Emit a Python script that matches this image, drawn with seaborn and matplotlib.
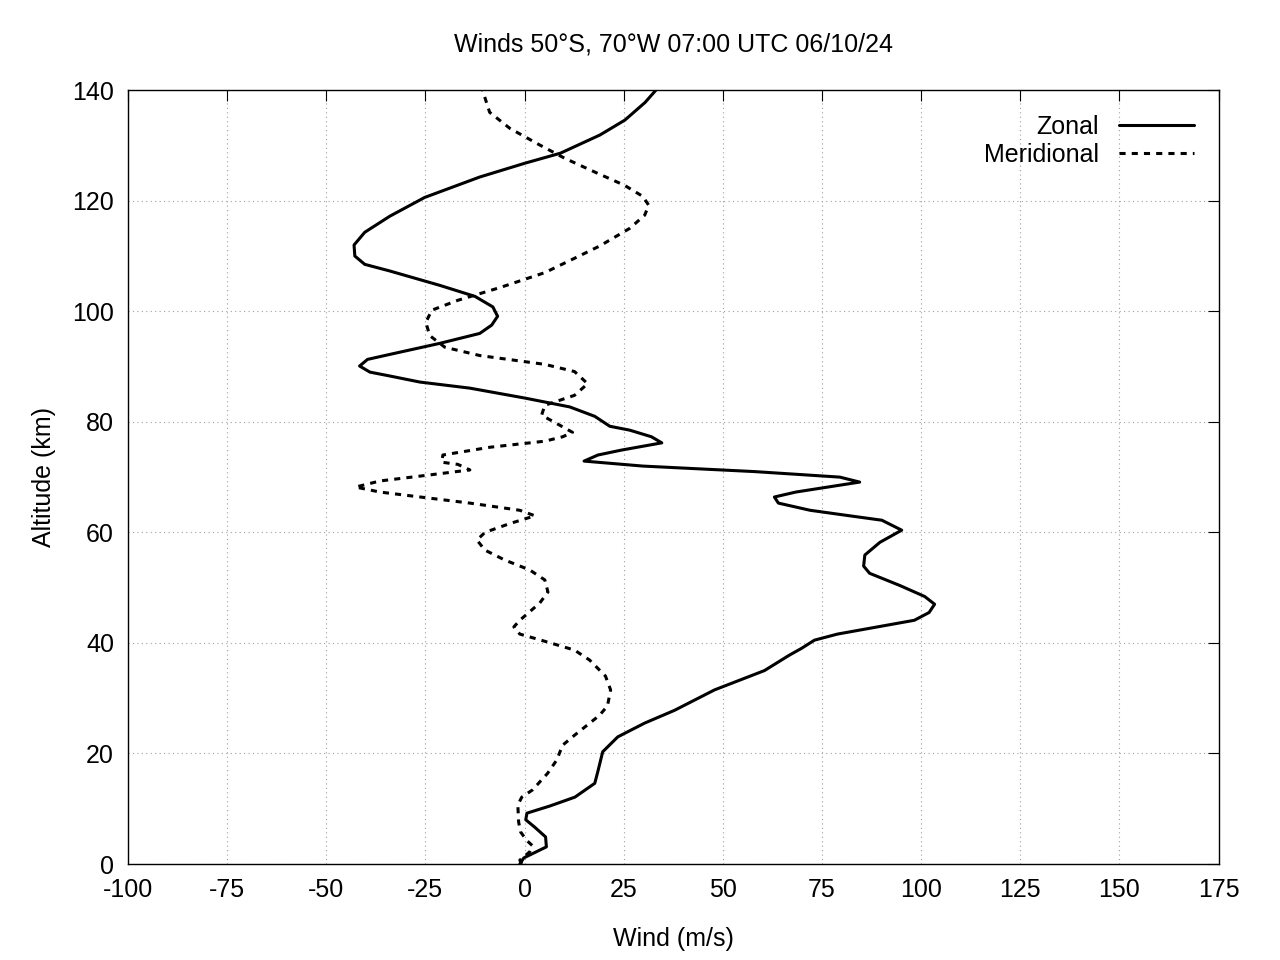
import matplotlib
matplotlib.use("Agg")
import matplotlib.pyplot as plt
import seaborn as sns
import pandas as pd

# Zonal wind profile (m/s) vs altitude (km)
zonal_alt = [0, 1.1, 3.1, 4.9, 6.7, 8, 9.2, 10.5, 12.1, 14.6, 16.8, 20.3, 23, 25.5, 27.8,
             31.5, 35, 37.8, 39, 40.5, 41.6, 44.1, 45.5, 47, 48.4, 50.4, 52.6, 53.9, 55.9,
             58.2, 60.4, 62.2, 63, 64, 65.3, 66.4, 67.3, 69.1, 70, 71, 72, 72.9, 74, 74.9,
             76.2, 77.3, 78.5, 79.2, 81, 82.7, 84.3, 86.1, 87.2, 88.3, 89, 90.1, 91.3, 92.2,
             94.2, 96, 97.5, 99.1, 100.8, 102.7, 104.7, 107.3, 108.5, 110, 112, 114.3, 117.2,
             120.6, 124.3, 126.8, 128.6, 131.9, 134.6, 137.8, 140]
zonal_wind = [-1.2, -0.2, 5.5, 5.3, 2.5, 0.3, 0.6, 6.4, 12.7, 17.7, 18.5, 19.7, 23.5, 30.3, 37.8,
              47.9, 60.5, 66.8, 69.8, 73.1, 78.9, 98.3, 102, 103.4, 100.9, 94.6, 87, 85.5, 85.8,
              89.6, 95.1, 90.1, 82, 72, 64, 63, 68.4, 84.5, 79.5, 58, 29.8, 15, 18.5, 24.5,
              34.6, 32, 26.5, 21.5, 17.7, 11.4, 0.1, -13.8, -26.4, -34, -39, -41.6, -39.6, -34,
              -21.4, -11.3, -8.3, -6.8, -8, -12.5, -21.4, -34, -40.3, -42.8, -43, -40.3, -34,
              -25.2, -11.3, 0.1, 9, 19, 25.3, 30.4, 33.1]

# Meridional wind profile
merid_alt = [0, 0.7, 2.2, 3.3, 4.3, 5.8, 7.6, 10.7, 12.1, 13.4, 16.4, 18.8, 21.5, 23.3, 26.9,
             28.6, 31.5, 34, 36.9, 38.7, 40.3, 41.6, 42.9, 44.1, 47.2, 49.2, 51.4, 53.2, 55,
             56.8, 58.6, 60, 61.6, 63, 64, 65.3, 67.3, 68.2, 69.3, 70.4, 71.3, 72.3, 72.7, 74,
             75.4, 76.5, 77.3, 78.1, 79.9, 81.2, 83, 84.8, 86.9, 89.1, 90.4, 92, 93.5, 95.6,
             98, 100.2, 102, 104.3, 107, 109.6, 111.8, 115, 117.4, 119.2, 120.8, 122.8, 125.2,
             127.7, 130.1, 133.1, 136, 140]
merid_wind = [-0.7, -1.2, 1.3, 2.0, 0.5, -1, -1.5, -1.7, -0.7, 2, 5.8, 8.1, 9.6, 12.6, 18.9,
              20.9, 21.7, 20.4, 16.4, 12.6, 5.1, -1.2, -2.7, -1.2, 3.8, 5.9, 5.1, 1.3, -5,
              -10, -12, -10, -3.7, 2.6, -1.2, -13.8, -36.5, -42.6, -36.5, -23.9, -13.8, -16.8, -20.9, -20.6,
              -8.8, 5.1, 9.6, 12.1, 7.6, 4.3, 5.1, 12.6, 15.9, 12.6, 5.1, -11.3, -20.1, -23.9,
              -24.9, -23.4, -16.8, -6.2, 5.1, 12.6, 18.9, 26.5, 30.3, 31.3, 29.8, 25.2, 17.7,
              10.1, 3.8, -3.7, -8.8, -10.6]

zonal = pd.DataFrame({"wind": zonal_wind, "alt": zonal_alt})
merid = pd.DataFrame({"wind": merid_wind, "alt": merid_alt})

sns.set_style("white")
plt.rcParams["font.family"] = ["Liberation Sans", "DejaVu Sans"]
plt.rcParams["axes.unicode_minus"] = False
plt.rcParams["text.color"] = "black"
plt.rcParams["axes.labelcolor"] = "black"
plt.rcParams["xtick.color"] = "black"
plt.rcParams["ytick.color"] = "black"

fig, ax = plt.subplots(figsize=(12.8, 9.6), dpi=100)
fig.subplots_adjust(left=0.1, right=0.952, top=0.906, bottom=0.1)

sns.lineplot(data=zonal, x="wind", y="alt", sort=False, estimator=None, ax=ax,
             color="black", lw=2.2, label="Zonal")
sns.lineplot(data=merid, x="wind", y="alt", sort=False, estimator=None, ax=ax,
             color="black", lw=2.2, linestyle=(0, (2, 2)), label="Meridional")

ax.set_xlim(-100, 175)
ax.set_ylim(0, 140)
ax.set_xticks(range(-100, 176, 25))
ax.set_yticks(range(0, 141, 20))
ax.grid(True, color="#a0a0a0", linestyle=(0, (1, 3)), lw=0.8)
ax.tick_params(direction="in", top=True, right=True, length=8, labelsize=18, pad=10)
for s in ax.spines.values():
    s.set_color("black")
    s.set_linewidth(1)

ax.set_title("Winds 50°S, 70°W 07:00 UTC 06/10/24", fontsize=18, pad=28)
ax.set_xlabel("Wind (m/s)", fontsize=18, labelpad=18)
ax.set_ylabel("Altitude (km)", fontsize=18, labelpad=12)

ax.legend(loc="upper right", frameon=False, fontsize=18, markerfirst=False,
          handlelength=3.0, borderaxespad=0.6, labelspacing=0.15)

plt.savefig("out.png", dpi=100)
plt.close()
